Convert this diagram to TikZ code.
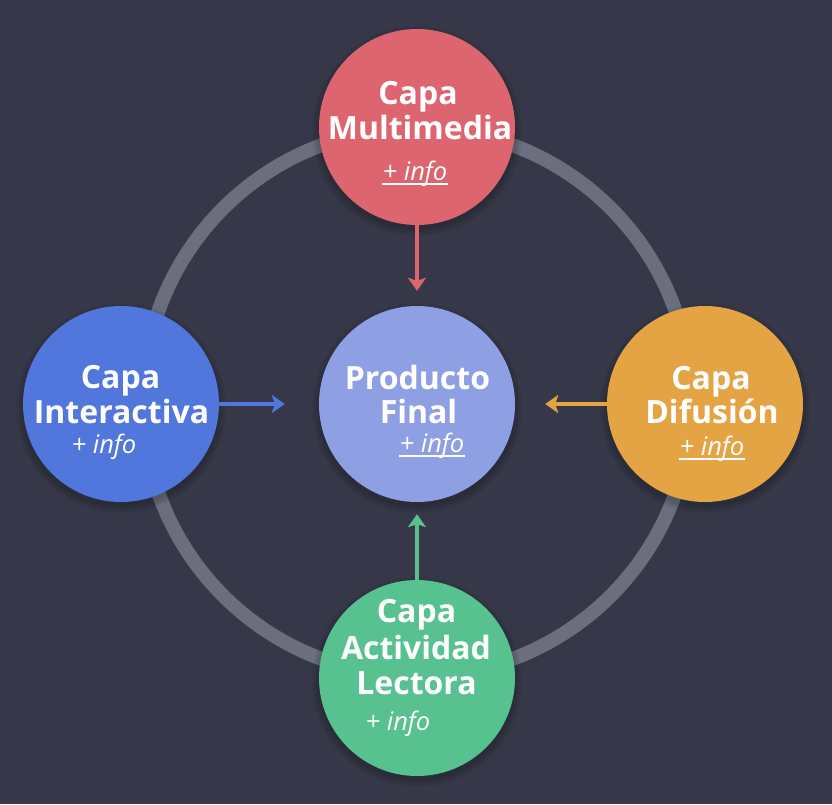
\documentclass[tikz,border=0pt]{standalone}
\usepackage{fontspec}
\setmainfont{Open Sans}
\usetikzlibrary{arrows.meta}
\definecolor{bg}{HTML}{363849}
\definecolor{ringc}{HTML}{6B6E7D}
\definecolor{cred}{HTML}{DD6570}
\definecolor{cblue}{HTML}{5177DC}
\definecolor{cprod}{HTML}{8F9FE3}
\definecolor{corange}{HTML}{E5A444}
\definecolor{cgreen}{HTML}{57C18F}
\begin{document}
\begin{tikzpicture}[x=1pt,y=-1pt,
  layer/.style={circle, minimum size=196pt, inner sep=0pt},
  ttl/.style={anchor=base, inner sep=0pt, text=white, font=\fontsize{32}{35}\selectfont\bfseries},
  info/.style={anchor=base, inner sep=0pt, text=white, font=\fontsize{25.5}{28}\selectfont\itshape},
  arr/.style={line width=4.5pt, -{Stealth[width=18pt,length=13pt,inset=3pt]}},
  uline/.style={line width=1.5pt, white}]
\fill[bg] (0,0) rectangle (832,804);
\useasboundingbox (0,0) rectangle (832,804);
\draw[ringc, line width=14pt] (417,402) circle[radius=274];
% soft shadows
\foreach \x/\y in {417/127, 121/404, 417/404, 705/404, 417/678} {
  \foreach \r in {99,101,103,105} {
    \fill[black, opacity=0.05] (\x,\y+4) circle[radius=\r];
  }
}
% circles
\node[layer, fill=cred]    (mm)  at (417,127) {};
\node[layer, fill=cblue]   (int) at (121,404) {};
\node[layer, fill=cprod]   (pf)  at (417,404) {};
\node[layer, fill=corange] (dif) at (705,404) {};
\node[layer, fill=cgreen]  (lec) at (417,678) {};
% arrows
\draw[arr, cred, shorten >=15pt]   (mm)  -- (pf);
\draw[arr, cblue, shorten >=34pt]  (int) -- (pf);
\draw[arr, corange, shorten >=30pt](dif) -- (pf);
\draw[arr, cgreen, shorten >=12pt] (lec) -- (pf);
% titles
\node[ttl] (mm1) at (418,104) {Capa};
\node[ttl] (mm2) at (420,139) {Multimedia};
\node[ttl] (int1) at (120.5,388) {Capa};
\node[ttl] (int2) at (121.5,423) {Interactiva};
\node[ttl] (pf1) at (417.5,389) {Producto};
\node[ttl] (pf2) at (418.5,423) {Final};
\node[ttl] (dif1) at (711,389) {Capa};
\node[ttl] (dif2) at (712,423) {Difusión};
\node[ttl] (lec1) at (416.5,622) {Capa};
\node[ttl] (lec2) at (416,659) {Actividad};
\node[ttl] (lec3) at (416.5,694) {Lectora};
% info
\node[info] (mmi) at (415,180) {+ info};
\node[info] (inti) at (104,453) {+ info};
\node[info] (pfi) at (432,452) {+ info};
\node[info] (difi) at (712,455) {+ info};
\node[info] (leci) at (398,730) {+ info};
\draw[uline] ([yshift=-4pt]mmi.base west) -- ([yshift=-4pt]mmi.base east);
\draw[uline] ([yshift=-4pt]pfi.base west) -- ([yshift=-4pt]pfi.base east);
\draw[uline] ([yshift=-4pt]difi.base west) -- ([yshift=-4pt]difi.base east);
\end{tikzpicture}
\end{document}
